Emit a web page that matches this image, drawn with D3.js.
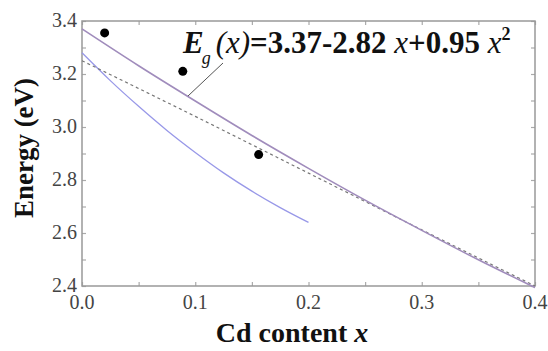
<!DOCTYPE html>
<html>
<head>
<meta charset="utf-8">
<script src="https://cdn.jsdelivr.net/npm/d3@7"></script>
</head>
<body style="margin:0; background:#fff">
<script>
const width = 548;
const height = 351;
const serif = "Liberation Serif, Tinos, serif";

// values
const fitX = [0, 0.05, 0.1, 0.15, 0.2, 0.25, 0.3, 0.35, 0.4];
const fitE = [3.37, 3.231, 3.098, 2.968, 2.844, 2.724, 2.61, 2.499, 2.394];

const dashX = [0, 0.1, 0.2, 0.3, 0.4];
const dashE = [3.25, 3.04, 2.826, 2.612, 2.40];

const blueX = [0, 0.025, 0.05, 0.075, 0.1, 0.125, 0.15, 0.175, 0.2];
const blueE = [3.28, 3.175, 3.078, 2.987, 2.904, 2.827, 2.758, 2.696, 2.64];

const dotX = [0.020, 0.089, 0.156];
const dotE = [3.355, 3.21, 2.896];

const xTicks = [0, 0.1, 0.2, 0.3, 0.4];
const yTicks = [2.4, 2.6, 2.8, 3.0, 3.2, 3.4];

const padL = 82, padR = 535, padT = 21, padB = 286;

const xScale = d3.scaleLinear().domain([0, 0.4]).range([padL, padR]);
const yScale = d3.scaleLinear().domain([2.4, 3.4]).range([padB, padT]);

const svg = d3.select('body').append('svg')
    .attr("width", width).attr("height", height);

// inward ticks on all four sides
const xMinor = d3.range(0, 0.4001, 0.05);
const yMinor = d3.range(2.4, 3.4001, 0.1);
svg.append('g').attr("transform", "translate(0," + padB + ")")
    .call(d3.axisTop(xScale).tickValues(xMinor).tickSize(4).tickFormat(""));
svg.append('g').attr("transform", "translate(0," + padT + ")")
    .call(d3.axisBottom(xScale).tickValues(xMinor).tickSize(4).tickFormat(""));
svg.append('g').attr("transform", "translate(" + padL + ",0)")
    .call(d3.axisRight(yScale).tickValues(yMinor).tickSize(4).tickFormat(""));
svg.append('g').attr("transform", "translate(" + padR + ",0)")
    .call(d3.axisLeft(yScale).tickValues(yMinor).tickSize(4).tickFormat(""));
svg.selectAll('.domain').remove();
svg.selectAll('.tick line').attr("stroke", "#aaa").attr("stroke-width", 1.2);

svg.append('rect')
    .attr("x", padL).attr("y", padT)
    .attr("width", padR - padL).attr("height", padB - padT)
    .attr("fill", "none").attr("stroke", "#999").attr("stroke-width", 1.5);

// tick labels
svg.selectAll('.xl').data(xTicks).enter().append('text')
    .attr("x", d => xScale(d)).attr("y", 309)
    .attr("text-anchor", "middle")
    .style("font-family", serif).style("font-size", "20px").style("fill", "#444")
    .text(d => d3.format(".1f")(d));
svg.selectAll('.yl').data(yTicks).enter().append('text')
    .attr("x", 77).attr("y", d => yScale(d) + 6)
    .attr("text-anchor", "end")
    .style("font-family", serif).style("font-size", "20px").style("fill", "#444")
    .text(d => d3.format(".1f")(d));

const line = d3.line().x(d => xScale(d[0])).y(d => yScale(d[1])).curve(d3.curveMonotoneX);

svg.append('path').datum(blueX.map((x, i) => [x, blueE[i]]))
    .attr("d", line).attr("fill", "none")
    .attr("stroke", "#9898e8").attr("stroke-width", 1.3);

svg.append('path').datum(dashX.map((x, i) => [x, dashE[i]]))
    .attr("d", line).attr("fill", "none")
    .attr("stroke", "#777").attr("stroke-width", 1.2)
    .attr("stroke-dasharray", "3,3");

svg.append('path').datum(fitX.map((x, i) => [x, fitE[i]]))
    .attr("d", line).attr("fill", "none")
    .attr("stroke", "#a08cbc").attr("stroke-width", 1.6);

svg.selectAll('circle').data(dotX).enter().append('circle')
    .attr("cx", d => xScale(d))
    .attr("cy", (d, i) => yScale(dotE[i]))
    .attr("r", 4.5).attr("fill", "#000");

// leader line to the fit curve
svg.append('line')
    .attr("x1", 188).attr("y1", 96).attr("x2", 223).attr("y2", 63)
    .attr("stroke", "#555").attr("stroke-width", 1);

// equation
const eq = svg.append('text').attr("x", 183).attr("y", 53)
    .style("font-family", serif).style("font-size", "31px").style("fill", "#111");
eq.append('tspan').text("E").style("font-weight", "bold").style("font-style", "italic");
eq.append('tspan').text("g").attr("dy", 11).attr("dx", -2).style("font-size", "18px").style("font-style", "italic");
eq.append('tspan').text("(x)").attr("dy", -11).attr("dx", 5).style("font-style", "italic");
eq.append('tspan').text("=3.37-2.82 ").style("font-weight", "bold");
eq.append('tspan').text("x").style("font-style", "italic");
eq.append('tspan').text("+0.95 ").style("font-weight", "bold");
eq.append('tspan').text("x").style("font-style", "italic");
eq.append('tspan').text("2").attr("dy", -13).style("font-size", "18px").style("font-weight", "bold");

// axis titles
svg.append('text')
    .attr("transform", "translate(33,148) rotate(-90)")
    .attr("text-anchor", "middle")
    .style("font-family", serif).style("font-size", "27px")
    .style("font-weight", "bold").style("fill", "#111")
    .text("Energy (eV)");

const xt = svg.append('text').attr("x", 292).attr("y", 342)
    .attr("text-anchor", "middle")
    .style("font-family", serif).style("font-size", "28px")
    .style("font-weight", "bold").style("fill", "#111");
xt.append('tspan').text("Cd content  ");
xt.append('tspan').text("x").style("font-style", "italic");
</script>
</body>
</html>
